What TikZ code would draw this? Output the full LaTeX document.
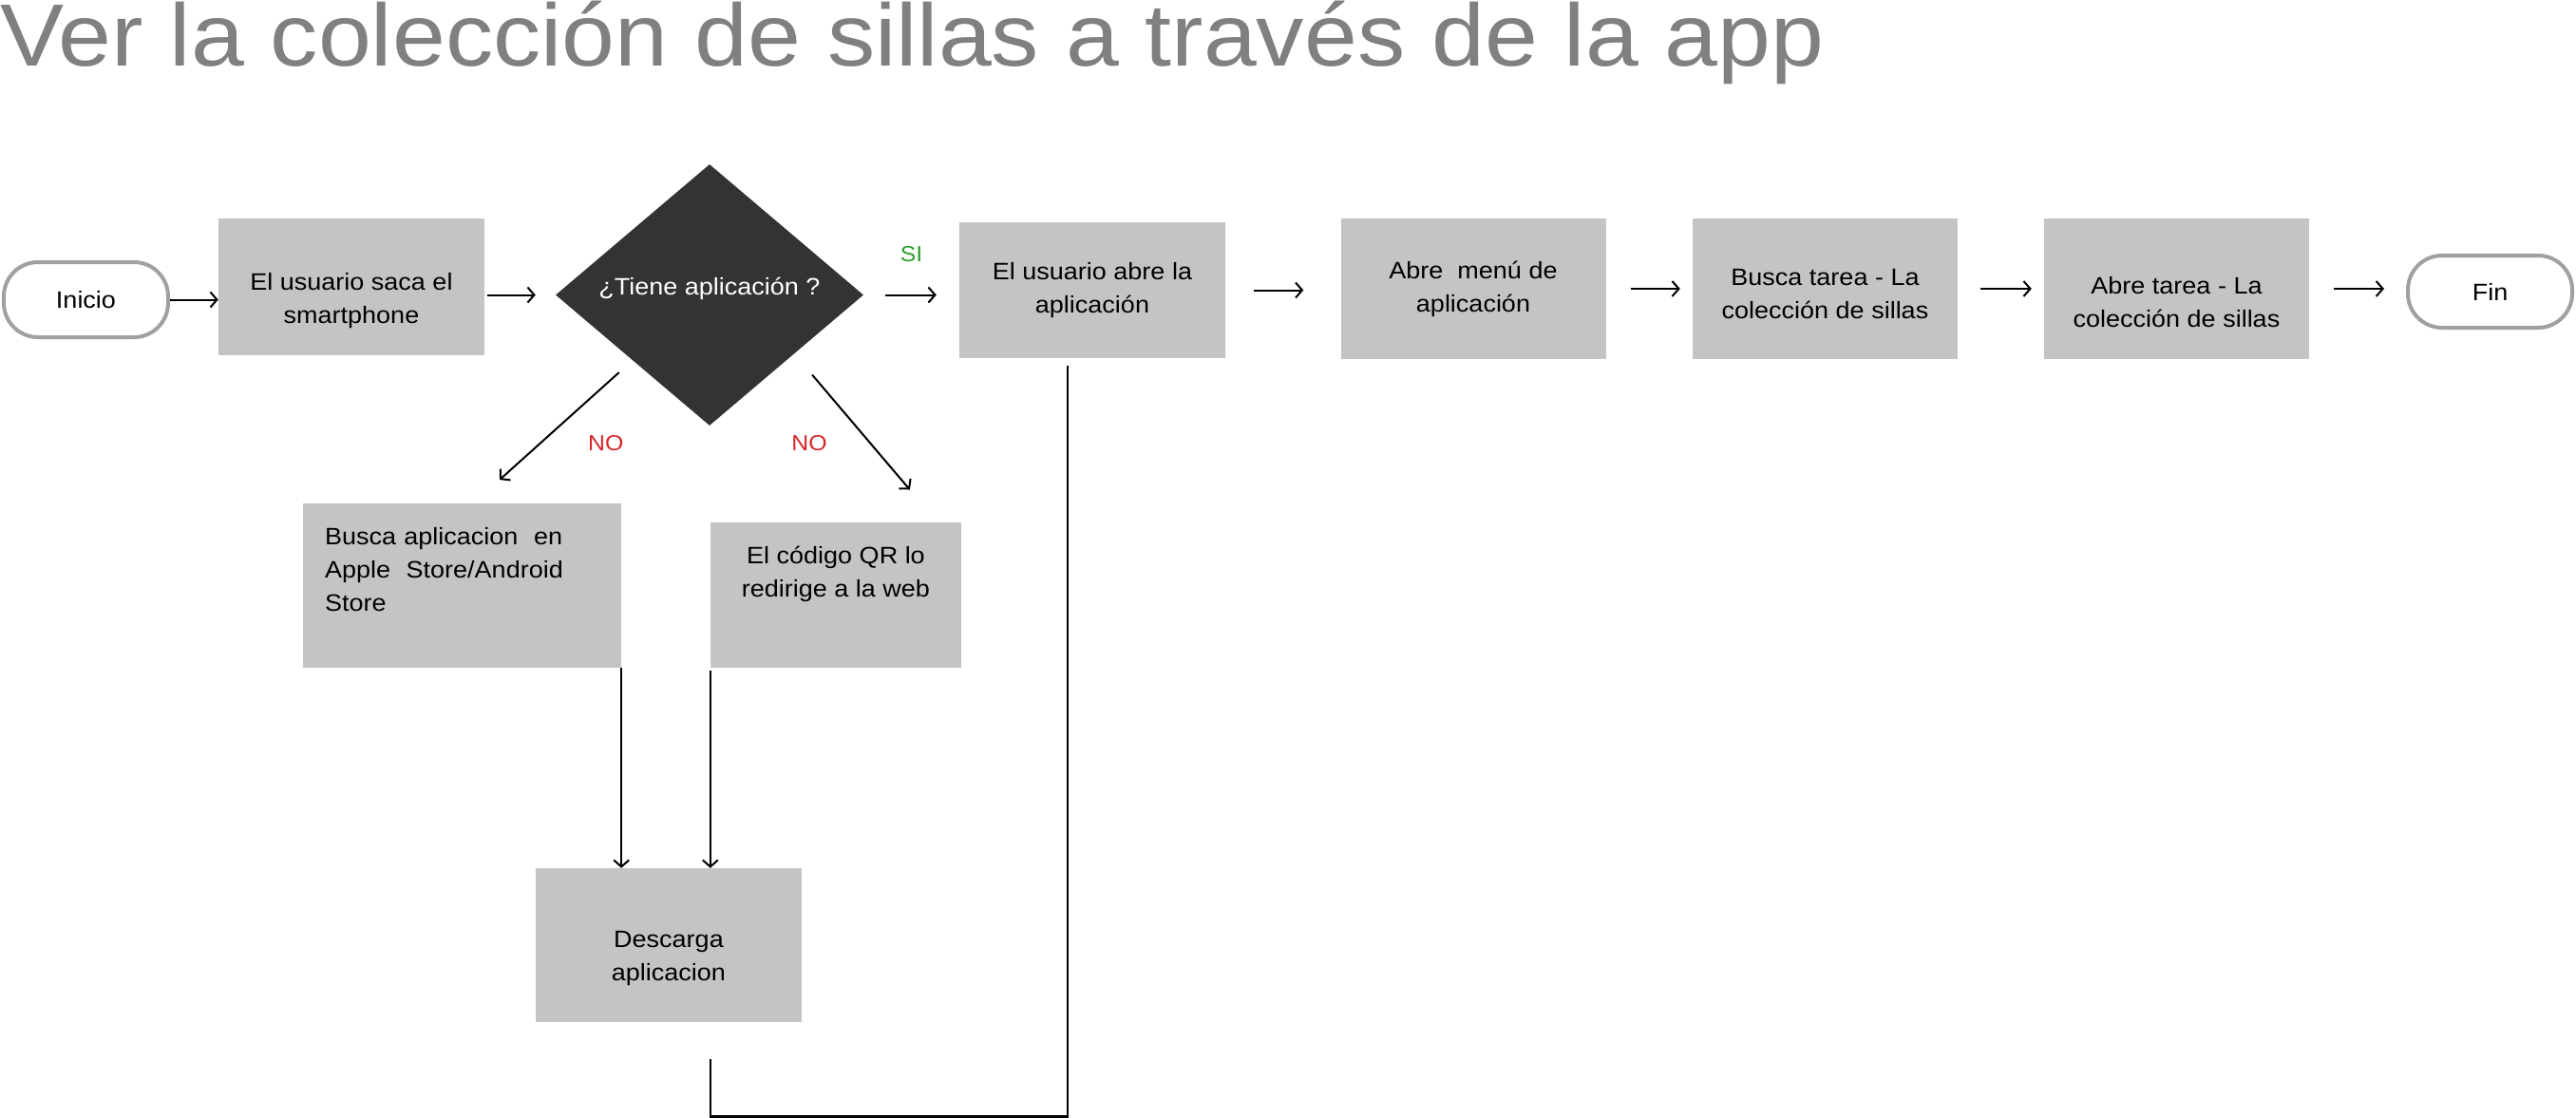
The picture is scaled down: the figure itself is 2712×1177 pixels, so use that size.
\documentclass[tikz,border=0pt]{standalone}
\usepackage{fontspec}
\setmainfont{Liberation Sans}[FakeStretch=1.08]
\usepackage{tikz}
\usetikzlibrary{arrows.meta,shapes.geometric}
\definecolor{boxgray}{RGB}{196,196,196}
\definecolor{darkdiamond}{RGB}{51,51,51}
\definecolor{titlegray}{RGB}{128,128,128}
\definecolor{rimgray}{RGB}{160,160,160}
\definecolor{sigreen}{RGB}{44,160,44}
\definecolor{nored}{RGB}{214,39,40}
\tikzset{
	terminal/.style={
		% The shape:
		rectangle,rounded corners=36pt,
		% The size:
		minimum width=173pt,minimum height=79pt,
		% The border:
		line width=4pt,
		draw=rimgray,fill=white,
		font=\fontsize{25}{35}\selectfont
	}}
\tikzset{
	process/.style={
		% The shape:
		rectangle,inner sep=0pt,
		% The size:
		minimum width=280pt,minimum height=144pt,
		% The filling:
		fill=boxgray,
		align=center,font=\fontsize{25}{35}\selectfont
	}}
\tikzset{
	decision/.style={
		% The shape:
		diamond,inner sep=0pt,aspect=1.18,
		% The size:
		minimum width=324pt,minimum height=275pt,
		% The filling:
		fill=darkdiamond,text=white,
		align=center,font=\fontsize{25}{35}\selectfont
	}}
\tikzset{
	flow/.style={-{Straight Barb[length=7pt,width=16pt]},line width=2pt},
	link/.style={line width=2.5pt},
	answer/.style={font=\fontsize{23}{26}\selectfont}
}

\begin{document}
\begin{tikzpicture}[x=1pt,y=-1pt]
	\useasboundingbox (0,0) rectangle (2712,1177);
	\node[anchor=base west,inner sep=0pt,text=titlegray,font=\fontsize{93}{100}\selectfont] (title) at (0,70) {Ver la colección de sillas a través de la app};
	% main row
	\node[terminal] (inicio) at (90.5,315.5) {Inicio};
	\node[process] (saca) at (370,302) {\mbox{}\\[13pt]El usuario saca el\\smartphone};
	\node[decision] (tiene) at (747,310.5) {¿Tiene aplicación ?\\[-16pt]\mbox{}};
	\node[process,minimum height=143pt] (abre) at (1150,305.5) {El usuario abre la\\aplicación};
	\node[process,minimum width=279pt,minimum height=148pt] (menu) at (1551,304) {Abre~ menú de\\aplicación};
	\node[process,minimum width=279pt,minimum height=148pt] (buscat) at (1921.5,304) {\mbox{}\\[-7pt]Busca tarea - La\\colección de sillas};
	\node[process,minimum width=279pt,minimum height=148pt] (abret) at (2291.5,304) {\mbox{}\\[11pt]Abre tarea - La\\colección de sillas};
	\node[terminal,minimum height=76pt] (fin) at (2621.5,307) {Fin};
	% the two NO branches
	\node[process,minimum width=335pt,minimum height=173pt,text width=289pt,align=left] (busca) at (486.5,616.5) {Busca aplicacion~ en\\Apple~ Store/Android\\Store\\\mbox{}};
	\node[process,minimum width=264pt,minimum height=153pt] (qr) at (880,626.5) {El código QR lo\\redirige a la web\\[14pt]\mbox{}};
	\node[process,minimum height=162pt] (descarga) at (704,995) {\mbox{}\\[11pt]Descarga\\ aplicacion};
	\coordinate (floor) at (0,1175.5);

	\draw[flow] (inicio.east) -- (inicio.east -| saca.west);
	\draw[flow,shorten <=3pt,shorten >=21pt] (saca.east |- tiene.west) -- (tiene.west);
	\draw[flow,shorten <=23pt,shorten >=24pt] (tiene.east) -- (tiene.east -| abre.west) node[midway,above=30pt,answer,text=sigreen] {SI};
	\foreach \from/\to/\gapa/\gapb in {abre/menu/30/39,menu/buscat/26/13,buscat/abret/24/13,abret/fin/26/23}
		\draw[flow,shorten <=\gapa pt,shorten >=\gapb pt] (\from.east) -- (\from.east -| \to.west);
	\draw[flow,shorten <=19pt,shorten >=37pt] (tiene.south west) -- ([xshift=12pt]busca.north) node[pos=.58,xshift=69pt,answer,text=nored] {NO};
	\draw[flow,shorten <=20pt,shorten >=45pt] ([xshift=14pt]tiene.south east) -- ([xshift=107pt]qr.north) node[pos=.51,xshift=-64pt,answer,text=nored] {NO};
	\draw[flow] (busca.south east) -- (busca.south east |- descarga.north);
	\draw[flow,shorten <=3pt] (qr.south west) -- (qr.south west |- descarga.north);
	\draw[link] (qr.west |- descarga.south) ++(0,39) -- (qr.west |- floor) -| ([xshift=-26pt,yshift=-8pt]abre.south);
\end{tikzpicture}
\end{document}
